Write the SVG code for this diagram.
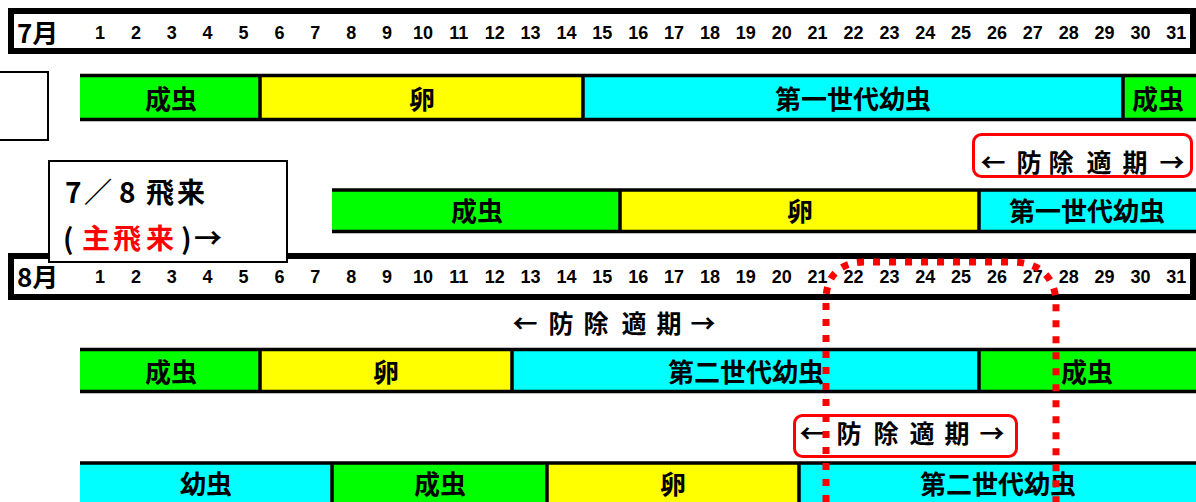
<svg xmlns="http://www.w3.org/2000/svg" width="1196" height="502" viewBox="0 0 1196 502">
<style>
.hdr{fill:#fff;stroke:#000;stroke-width:6}
.num{font-family:"Liberation Sans",Arial,sans-serif;font-weight:bold;font-size:18px;fill:#000;text-anchor:middle}
.mon{font-family:"Noto Sans CJK JP",sans-serif;font-weight:bold;font-size:26px;fill:#000}
.lbl{font-family:"Noto Sans CJK JP",sans-serif;font-weight:bold;font-size:26px;fill:#000;text-anchor:middle}
.per{font-family:"Noto Sans CJK JP",sans-serif;font-weight:bold;font-size:25px;fill:#000;text-anchor:middle}
.call{font-family:"Noto Sans CJK JP",sans-serif;font-weight:bold;font-size:28px;fill:#000}
.g{fill:#00ff00}.y{fill:#ffff00}.c{fill:#00ffff}
.bl{stroke:#000;stroke-width:3.5;fill:none}
.rbox{fill:#fff;stroke:#ff0000;stroke-width:3}
.dot{fill:none;stroke:#ff0000;stroke-width:7;stroke-dasharray:7 9}
</style>

<!-- July header -->
<g id="header-july">
<rect class="hdr" x="11" y="11" width="1182" height="40"/>
<text class="mon" x="17" y="43">7月</text>
<text class="num" y="39"><tspan x="100">1</tspan><tspan x="135.9">2</tspan><tspan x="171.8">3</tspan><tspan x="207.6">4</tspan><tspan x="243.5">5</tspan><tspan x="279.4">6</tspan><tspan x="315.3">7</tspan><tspan x="351.2">8</tspan><tspan x="387">9</tspan><tspan x="422.9">10</tspan><tspan x="458.8">11</tspan><tspan x="494.7">12</tspan><tspan x="530.6">13</tspan><tspan x="566.4">14</tspan><tspan x="602.3">15</tspan><tspan x="638.2">16</tspan><tspan x="674.1">17</tspan><tspan x="710">18</tspan><tspan x="745.8">19</tspan><tspan x="781.7">20</tspan><tspan x="817.6">21</tspan><tspan x="853.5">22</tspan><tspan x="889.4">23</tspan><tspan x="925.2">24</tspan><tspan x="961">25</tspan><tspan x="996.9">26</tspan><tspan x="1032.8">27</tspan><tspan x="1068.7">28</tspan><tspan x="1104.5">29</tspan><tspan x="1140.4">30</tspan><tspan x="1176.3">31</tspan></text>
</g>

<g id="left-box">
<rect x="-2" y="72" width="50" height="68" fill="#fff" stroke="#000" stroke-width="2"/>
</g>

<!-- Row 1 -->
<g id="r1-adult"><rect class="g" x="80" y="75.5" width="180" height="44"/><text class="lbl" x="171" y="109">成虫</text></g>
<g id="r1-egg"><rect class="y" x="260" y="75.5" width="323" height="44"/><text class="lbl" x="422" y="109">卵</text></g>
<g id="r1-larva1"><rect class="c" x="583" y="75.5" width="540" height="44"/><text class="lbl" x="853" y="109">第一世代幼虫</text></g>
<g id="r1-adult2"><rect class="g" x="1123" y="75.5" width="73" height="44"/><text class="lbl" x="1158" y="109">成虫</text></g>

<!-- Control period 1 -->
<g id="control-1">
<rect class="rbox" x="973.5" y="134.5" width="218" height="42" rx="8"/>
<text class="per" y="171.5"><tspan x="993">←</tspan><tspan x="1029">防</tspan><tspan x="1061">除</tspan><tspan x="1099">適</tspan><tspan x="1135">期</tspan><tspan x="1172">→</tspan></text>
</g>

<!-- Row 3 -->
<g id="r3-adult"><rect class="g" x="332" y="190" width="288" height="42"/><text class="lbl" x="477" y="221">成虫</text></g>
<g id="r3-egg"><rect class="y" x="620" y="190" width="359" height="42"/><text class="lbl" x="800" y="221">卵</text></g>
<g id="r3-larva1"><rect class="c" x="979" y="190" width="217" height="42"/><text class="lbl" x="1087" y="221">第一世代幼虫</text></g>

<!-- August header -->
<g id="header-august">
<rect class="hdr" x="11" y="256" width="1182" height="41"/>
<text class="mon" x="17" y="287">8月</text>
<text class="num" y="282.5"><tspan x="100">1</tspan><tspan x="135.9">2</tspan><tspan x="171.8">3</tspan><tspan x="207.6">4</tspan><tspan x="243.5">5</tspan><tspan x="279.4">6</tspan><tspan x="315.3">7</tspan><tspan x="351.2">8</tspan><tspan x="387">9</tspan><tspan x="422.9">10</tspan><tspan x="458.8">11</tspan><tspan x="494.7">12</tspan><tspan x="530.6">13</tspan><tspan x="566.4">14</tspan><tspan x="602.3">15</tspan><tspan x="638.2">16</tspan><tspan x="674.1">17</tspan><tspan x="710">18</tspan><tspan x="745.8">19</tspan><tspan x="781.7">20</tspan><tspan x="817.6">21</tspan><tspan x="853.5">22</tspan><tspan x="889.4">23</tspan><tspan x="925.2">24</tspan><tspan x="961">25</tspan><tspan x="996.9">26</tspan><tspan x="1032.8">27</tspan><tspan x="1068.7">28</tspan><tspan x="1104.5">29</tspan><tspan x="1140.4">30</tspan><tspan x="1176.3">31</tspan></text>
</g>

<!-- Callout -->
<g id="callout-arrival">
<rect x="49" y="161" width="238" height="101" fill="#fff" stroke="#000" stroke-width="2"/>
<text class="call" y="203"><tspan x="65">7</tspan><tspan x="84">／</tspan><tspan x="119">8 </tspan><tspan x="146">飛</tspan><tspan x="177">来</tspan></text>
<text class="call" y="249"><tspan x="63">(</tspan><tspan x="82" fill="#ff0000">主</tspan><tspan x="113" fill="#ff0000">飛</tspan><tspan x="146" fill="#ff0000">来</tspan><tspan x="181">)</tspan><tspan x="194">→</tspan></text>
</g>

<!-- Control period 2 -->
<g id="control-2">
<text class="per" y="332.5"><tspan x="525">←</tspan><tspan x="561">防</tspan><tspan x="596">除</tspan><tspan x="634">適</tspan><tspan x="669">期</tspan><tspan x="703">→</tspan></text>
</g>

<!-- Row 5 -->
<g id="r5-adult"><rect class="g" x="80" y="349.5" width="180" height="42"/><text class="lbl" x="171" y="382">成虫</text></g>
<g id="r5-egg"><rect class="y" x="260" y="349.5" width="252" height="42"/><text class="lbl" x="386" y="382">卵</text></g>
<g id="r5-larva2"><rect class="c" x="512" y="349.5" width="467" height="42"/><text class="lbl" x="746" y="382">第二世代幼虫</text></g>
<g id="r5-adult2"><rect class="g" x="979" y="349.5" width="217" height="42"/><text class="lbl" x="1087" y="382">成虫</text></g>

<!-- Control period 3 -->
<g id="control-3">
<rect class="rbox" x="794.5" y="415.5" width="222" height="41" rx="8"/>
<text class="per" y="442.5"><tspan x="812">←</tspan><tspan x="849">防</tspan><tspan x="886">除</tspan><tspan x="922">適</tspan><tspan x="957">期</tspan><tspan x="992">→</tspan></text>
</g>

<!-- Row 7 -->
<g id="r7-larva"><rect class="c" x="80" y="463" width="252" height="45"/><text class="lbl" x="206" y="494">幼虫</text></g>
<g id="r7-adult"><rect class="g" x="332" y="463" width="215" height="45"/><text class="lbl" x="440" y="494">成虫</text></g>
<g id="r7-egg"><rect class="y" x="547" y="463" width="252" height="45"/><text class="lbl" x="673" y="494">卵</text></g>
<g id="r7-larva2"><rect class="c" x="799" y="463" width="397" height="45"/><text class="lbl" x="998" y="494">第二世代幼虫</text></g>

<!-- bar outlines -->
<g id="bar-lines" class="bl">
<path d="M80 75.5H1196M80 119.5H1196M260 75.5V119.5M583 75.5V119.5M1123 75.5V119.5"/>
<path d="M332 190H1196M332 231.5H1196M620 190V231.5M979 190V231.5"/>
<path d="M80 349.5H1196M80 391.5H1196M260 349.5V391.5M512 349.5V391.5M979 349.5V391.5"/>
<path d="M80 463H1196M332 463V502M547 463V502M799 463V502"/>
</g>

<!-- dotted control window -->
<g id="connectors">
<path class="dot" d="M826 502V300C826 276 840 262 864 262H1012C1040 262 1056 278 1056 304V502"/>
</g>
</svg>
